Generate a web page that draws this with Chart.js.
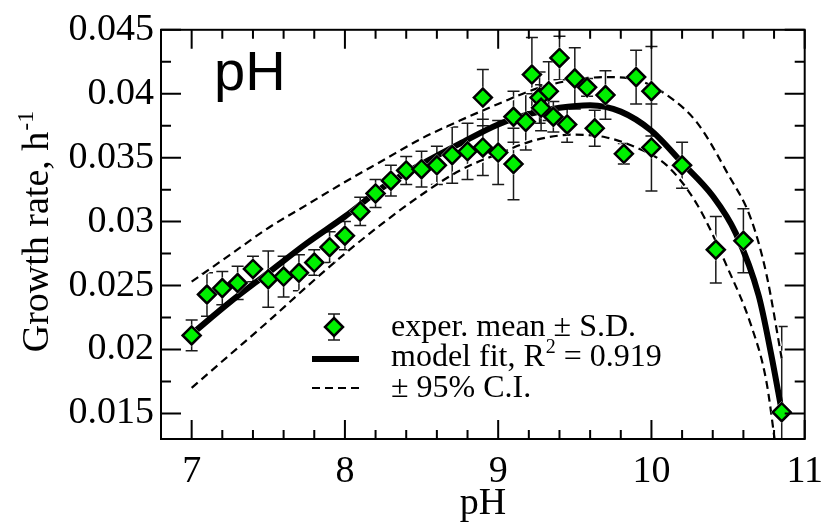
<!DOCTYPE html>
<html>
<head>
<meta charset="utf-8">
<title>Growth rate vs pH</title>
<script src="https://cdn.jsdelivr.net/npm/chart.js@4.4.1/dist/chart.umd.min.js"></script>
<style>
  html, body { margin: 0; padding: 0; background: #fff; }
  canvas { display: block; }
</style>
</head>
<body>
<canvas id="phChart" width="833" height="525"></canvas>
<script>
// experimental means and standard deviations
const phValues = [7.0, 7.1, 7.2, 7.3, 7.4, 7.5, 7.6, 7.7, 7.8, 7.9, 8.0, 8.1, 8.2, 8.3, 8.4, 8.5, 8.6, 8.7, 8.8, 8.9, 8.9,
  9.0, 9.1, 9.1, 9.18, 9.22, 9.27, 9.28, 9.33, 9.36, 9.4, 9.45, 9.5, 9.58, 9.63, 9.7, 9.82, 9.9, 10.0, 10.0, 10.2, 10.42, 10.6, 10.85];
const growthMean = [0.0211, 0.0243, 0.0248, 0.0252, 0.0263, 0.0255, 0.0257, 0.0260, 0.0268, 0.0280, 0.0289, 0.0308, 0.0322, 0.0332, 0.0340, 0.0341, 0.0344, 0.0352, 0.0355, 0.0358, 0.0397,
  0.0354, 0.0345, 0.0382, 0.0378, 0.0415, 0.0397, 0.0389, 0.0402, 0.0382, 0.0428, 0.0376, 0.0412, 0.0405, 0.0373, 0.0399, 0.0353, 0.0413, 0.0402, 0.0358, 0.0344, 0.0278, 0.0285, 0.0151];
const growthSd = [0.0012, 0.0017, 0.0013, 0.0013, 0.0010, 0.0022, 0.0016, 0.0014, 0.0010, 0.0012, 0.0011, 0.0011, 0.0011, 0.0012, 0.0011, 0.0014, 0.0015, 0.0022, 0.0022, 0.0022, 0.0022,
  0.0025, 0.0028, 0.0020, 0.0022, 0.0029, 0.0020, 0.0018, 0.0023, 0.0012, 0.0017, 0.0014, 0.0024, 0.0007, 0.0014, 0.0019, 0.0008, 0.0021, 0.0035, 0.0034, 0.0018, 0.0026, 0.0025, 0.0067];

// model fit curve
const fitPh = [7.0, 7.25, 7.5, 7.75, 8.0, 8.25, 8.5, 8.75, 9.0, 9.2, 9.4, 9.6, 9.8, 10.0, 10.2, 10.4, 10.55, 10.7, 10.78, 10.85];
const fitRate = [0.0212, 0.0237, 0.0260, 0.0283, 0.0304, 0.0327, 0.0345, 0.0361, 0.0376, 0.0384, 0.0389, 0.0391, 0.0386, 0.0371, 0.0346, 0.0320, 0.0291, 0.0242, 0.0197, 0.0152];

// 95% confidence band
const upperPh = [7.0, 7.25, 7.5, 7.75, 8.0, 8.25, 8.5, 8.75, 9.0, 9.25, 9.5, 9.7, 9.9, 10.1, 10.3, 10.5, 10.65, 10.75, 10.85];
const upperRate = [0.0253, 0.0274, 0.0295, 0.0313, 0.0331, 0.0348, 0.0365, 0.0379, 0.0392, 0.0404, 0.0411, 0.0413, 0.0411, 0.0399, 0.0377, 0.0337, 0.0302, 0.0259, 0.0193];
const lowerPh = [7.0, 7.25, 7.5, 7.75, 8.0, 8.25, 8.5, 8.75, 9.0, 9.25, 9.5, 9.7, 9.9, 10.1, 10.3, 10.5, 10.65, 10.75, 10.82];
const lowerRate = [0.0170, 0.0196, 0.0222, 0.0249, 0.0275, 0.0299, 0.0321, 0.0340, 0.0353, 0.0364, 0.0368, 0.0366, 0.0358, 0.0344, 0.0313, 0.0263, 0.0219, 0.0175, 0.0115];

// axis ranges and ticks
const xRange = [6.8, 11];
const yRange = [0.013, 0.045];
const xMajorTicks = [7, 8, 9, 10, 11];
const xTickLabels = ["7", "8", "9", "10", "11"];
const xMinorTicks = [6.8, 7.2, 7.4, 7.6, 7.8, 8.2, 8.4, 8.6, 8.8, 9.2, 9.4, 9.6, 9.8, 10.2, 10.4, 10.6, 10.8];
const yMajorTicks = [0.015, 0.02, 0.025, 0.03, 0.035, 0.04, 0.045];
const yTickLabels = ["0.015", "0.02", "0.025", "0.03", "0.035", "0.04", "0.045"];
const yMinorTicks = [0.0175, 0.0225, 0.0275, 0.0325, 0.0375, 0.0425];

const SERIF = '"Liberation Serif", "Times New Roman", serif';
const SANS = '"Liberation Sans", Arial, sans-serif';
const GREEN = "#00f000";

const toPoints = (xs, ys) => xs.map((x, i) => ({ x: x, y: ys[i] }));

const majorIndex = (list, v) => list.findIndex((t) => Math.abs(t - v) < 1e-9);

const curve = (xs, ys, color, width, dash) => ({
  data: toPoints(xs, ys),
  showLine: true,
  borderColor: color,
  borderWidth: width,
  borderDash: dash,
  pointRadius: 0,
  cubicInterpolationMode: "monotone",
  fill: false,
});

// error bars behind the datasets
const errorBars = {
  id: "errorBars",
  beforeDatasetsDraw(chart) {
    const { ctx, chartArea: a, scales: { x, y } } = chart;
    ctx.save();
    ctx.beginPath();
    ctx.rect(a.left, a.top, a.right - a.left, a.bottom - a.top);
    ctx.clip();
    ctx.strokeStyle = "#1a1a1a";
    ctx.lineWidth = 1.5;
    ctx.beginPath();
    phValues.forEach((ph, i) => {
      const px = x.getPixelForValue(ph);
      const top = y.getPixelForValue(growthMean[i] + growthSd[i]);
      const bot = y.getPixelForValue(growthMean[i] - growthSd[i]);
      ctx.moveTo(px, top);
      ctx.lineTo(px, bot);
      ctx.moveTo(px - 6, top);
      ctx.lineTo(px + 6, top);
      ctx.moveTo(px - 6, bot);
      ctx.lineTo(px + 6, bot);
    });
    ctx.stroke();
    ctx.restore();
  },
};

// frame and inward ticks on all four sides, drawn last
const frame = {
  id: "frame",
  afterDraw(chart) {
    const ctx = chart.ctx;
    const a = chart.chartArea;
    const sx = chart.scales.x;
    const sy = chart.scales.y;
    ctx.save();
    ctx.globalCompositeOperation = "source-over";
    ctx.globalAlpha = 1;
    ctx.setTransform(1, 0, 0, 1, 0, 0);
    ctx.strokeStyle = "#000";
    ctx.lineWidth = 2;
    ctx.setLineDash([]);
    const marks = [];
    xMajorTicks.forEach((v) => marks.push(["x", v, 19]));
    xMinorTicks.forEach((v) => marks.push(["x", v, 9]));
    yMajorTicks.forEach((v) => marks.push(["y", v, 20]));
    yMinorTicks.forEach((v) => marks.push(["y", v, 10]));
    marks.forEach(([axis, v, len]) => {
      ctx.beginPath();
      if (axis === "x") {
        const px = sx.getPixelForValue(v);
        ctx.moveTo(px, a.bottom);
        ctx.lineTo(px, a.bottom - len);
        ctx.moveTo(px, a.top);
        ctx.lineTo(px, a.top + len);
      } else {
        const py = sy.getPixelForValue(v);
        ctx.moveTo(a.left, py);
        ctx.lineTo(a.left + len, py);
        ctx.moveTo(a.right, py);
        ctx.lineTo(a.right - len, py);
      }
      ctx.stroke();
    });
    ctx.strokeRect(a.left, a.top, a.right - a.left, a.bottom - a.top);
    ctx.restore();
  },
};

// titles, legend and panel label
const textLayer = {
  id: "textLayer",
  afterDraw(chart) {
    const { ctx, chartArea: a } = chart;
    ctx.save();

    // panel label
    ctx.fillStyle = "#000";
    ctx.font = "56px " + SANS;
    ctx.textAlign = "left";
    ctx.textBaseline = "alphabetic";
    ctx.fillText("pH", 214, 90);

    // x title
    ctx.font = "38px " + SERIF;
    ctx.textAlign = "center";
    ctx.fillText("pH", (a.left + a.right) / 2, 514);

    // y title with superscript
    ctx.save();
    ctx.translate(48, 232);
    ctx.rotate(-Math.PI / 2);
    const main = "Growth rate, h";
    const sup = "-1";
    ctx.font = "38px " + SERIF;
    const wMain = ctx.measureText(main).width;
    ctx.font = "24px " + SERIF;
    const wSup = ctx.measureText(sup).width;
    const start = -(wMain + wSup) / 2;
    ctx.textAlign = "left";
    ctx.font = "38px " + SERIF;
    ctx.fillText(main, start, 0);
    ctx.font = "24px " + SERIF;
    ctx.fillText(sup, start + wMain + 1, -15);
    ctx.restore();

    // legend
    const lx = 334;
    ctx.lineWidth = 1.5;
    ctx.strokeStyle = "#1a1a1a";
    ctx.setLineDash([]);
    ctx.beginPath();
    ctx.moveTo(lx, 314); ctx.lineTo(lx, 340);
    ctx.moveTo(lx - 6, 314); ctx.lineTo(lx + 6, 314);
    ctx.moveTo(lx - 6, 340); ctx.lineTo(lx + 6, 340);
    ctx.stroke();
    ctx.beginPath();
    ctx.moveTo(lx, 327 - 9); ctx.lineTo(lx + 9, 327); ctx.lineTo(lx, 327 + 9); ctx.lineTo(lx - 9, 327);
    ctx.closePath();
    ctx.fillStyle = GREEN;
    ctx.fill();
    ctx.lineWidth = 2.5;
    ctx.strokeStyle = "#000";
    ctx.stroke();

    ctx.lineWidth = 6;
    ctx.beginPath();
    ctx.moveTo(312, 359); ctx.lineTo(359, 359);
    ctx.stroke();

    ctx.lineWidth = 2.2;
    ctx.setLineDash([8, 5]);
    ctx.beginPath();
    ctx.moveTo(312, 388); ctx.lineTo(359, 388);
    ctx.stroke();
    ctx.setLineDash([]);

    ctx.fillStyle = "#000";
    ctx.textAlign = "left";
    ctx.font = "32px " + SERIF;
    ctx.fillText("exper. mean \u00b1 S.D.", 391, 336);
    const fitLabel = "model fit, R";
    ctx.fillText(fitLabel, 391, 366);
    const w = ctx.measureText(fitLabel).width;
    ctx.font = "20px " + SERIF;
    ctx.fillText("2", 391 + w + 1, 353);
    const w2 = ctx.measureText("2").width;
    ctx.font = "32px " + SERIF;
    ctx.fillText(" = 0.919", 391 + w + w2 + 1, 366);
    ctx.fillText("\u00b1 95% C.I.", 391, 397);
    ctx.restore();
  },
};

const chartData = {
  datasets: [
    {
      data: toPoints(phValues, growthMean),
      pointStyle: "rectRot",
      pointRadius: 9,
      pointBackgroundColor: GREEN,
      pointBorderColor: "#000",
      pointBorderWidth: 2.5,
      showLine: false,
    },
    {
      data: toPoints(phValues, growthMean),
      pointStyle: "rectRot",
      pointRadius: 11,
      pointBackgroundColor: "#fff",
      pointBorderWidth: 0,
      showLine: false,
    },
    curve(upperPh, upperRate, "#000", 2.2, [8, 5]),
    curve(lowerPh, lowerRate, "#000", 2.2, [8, 5]),
    curve(upperPh, upperRate, "#fff", 5, [8, 5]),
    curve(lowerPh, lowerRate, "#fff", 5, [8, 5]),
    curve(fitPh, fitRate, "#000", 6, []),
  ],
};

const config = {
  type: "scatter",
  data: chartData,
  options: {
    responsive: false,
    animation: false,
    events: [],
    layout: { padding: { top: 21, right: 15, left: 0, bottom: 0 } },
    plugins: { legend: { display: false }, tooltip: { enabled: false } },
    scales: {
      x: {
        min: xRange[0],
        max: xRange[1],
        grid: { display: false, drawTicks: false },
        border: { display: false },
        ticks: {
          stepSize: 0.2,
          autoSkip: false,
          maxRotation: 0,
          padding: 10,
          color: "#000",
          font: { family: SERIF, size: 38 },
          callback: (v) => {
            const k = majorIndex(xMajorTicks, v);
            return k >= 0 ? xTickLabels[k] : "";
          },
        },
        afterFit: (scale) => {
          scale.height = 86;
        },
      },
      y: {
        min: yRange[0],
        max: yRange[1],
        grid: { display: false, drawTicks: false },
        border: { display: false },
        ticks: {
          stepSize: 0.0025,
          includeBounds: false,
          autoSkip: false,
          padding: 7,
          color: "#000",
          font: { family: SERIF, size: 38 },
          callback: (v) => {
            const k = majorIndex(yMajorTicks, v);
            return k >= 0 ? yTickLabels[k] : "";
          },
        },
        afterFit: (scale) => {
          scale.width = 161;
        },
      },
    },
  },
  plugins: [errorBars, textLayer, frame],
};

const phChart = new Chart(document.getElementById("phChart"), config);
</script>
</body>
</html>
